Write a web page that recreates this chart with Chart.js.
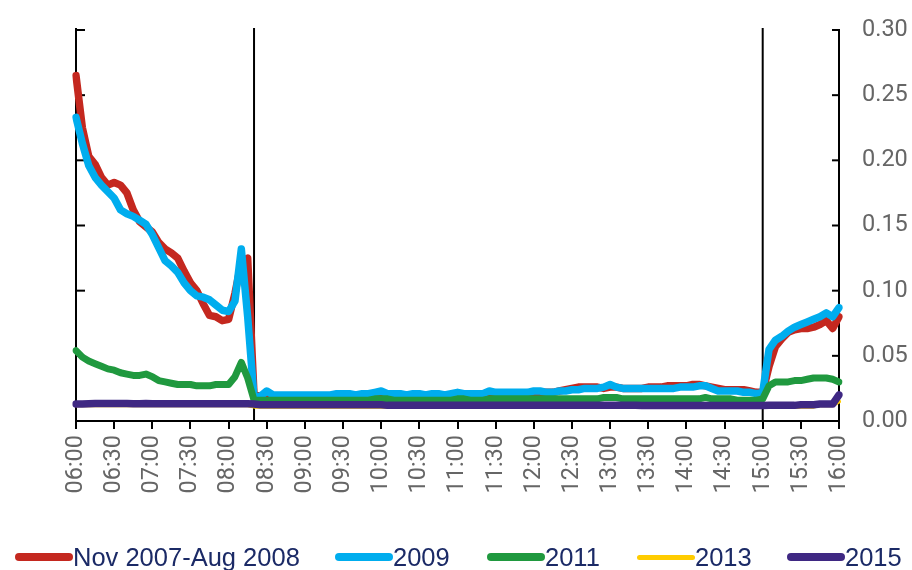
<!DOCTYPE html>
<html><head><meta charset="utf-8">
<script src="https://cdn.jsdelivr.net/npm/chart.js@4.4.0/dist/chart.umd.min.js"></script>
<style>
html,body{margin:0;padding:0;background:#fff;}
#wrap{position:relative;width:912px;height:570px;overflow:hidden;}
#legend{position:absolute;left:0;top:541px;width:912px;height:32px;font-family:"Liberation Sans",Arial,sans-serif;font-size:25.5px;line-height:32px;color:#1b2a66;white-space:nowrap;}
.item{position:absolute;top:0;display:flex;align-items:center;height:32px;}
.sw{width:58px;border-radius:4px;}
</style></head>
<body>
<div id="wrap"><canvas id="c"></canvas><div id="legend"></div></div>
<script>
// categories: 5-minute intervals 06:00 .. 16:00
const timeLabels = [];
for (let m = 360; m <= 960; m += 5) {
  timeLabels.push(String(Math.floor(m / 60)).padStart(2, '0') + ':' + String(m % 60).padStart(2, '0'));
}
const tickLabels = ['06:00','06:30','07:00','07:30','08:00','08:30','09:00','09:30','10:00','10:30','11:00','11:30','12:00','12:30','13:00','13:30','14:00','14:30','15:00','15:30','16:00'];
const markerTimes = ['08:20','15:00'];
const yTicks = [0, 0.05, 0.10, 0.15, 0.20, 0.25, 0.30];

const seriesNames = ['Nov 2007-Aug 2008','2009','2011','2013','2015'];
const seriesColors = ['#c4281f','#00adee','#20993f','#ffcc00','#3f2883'];

const s2008 = [0.265,0.225,0.203,0.197,0.187,0.181,0.183,0.181,0.175,0.162,0.153,0.149,0.145,0.137,0.132,0.129,0.125,0.115,0.106,0.100,0.090,0.081,0.080,0.077,0.078,0.098,0.122,0.125,0.020,
  0.019,0.020,0.019,0.019,0.019,0.019,0.019,0.019,0.019,0.019,0.019,0.019,0.020,0.020,0.020,0.019,0.020,0.020,0.021,0.021,
  0.020,0.020,0.020,0.019,0.020,0.020,0.019,0.020,0.020,0.019,0.020,0.021,0.020,0.020,0.020,0.020,0.021,0.021,0.021,0.021,
  0.021,0.021,0.021,0.022,0.022,0.022,0.022,0.023,0.024,0.025,0.026,0.026,0.026,0.026,0.025,0.026,0.026,0.025,0.025,0.025,
  0.025,0.026,0.026,0.026,0.027,0.027,0.027,0.027,0.028,0.028,0.027,0.026,0.025,0.024,0.024,0.024,0.024,0.023,0.022,0.022,
  0.042,0.057,0.063,0.068,0.070,0.071,0.071,0.072,0.074,0.077,0.071,0.080];
const s2009 = [0.233,0.213,0.196,0.187,0.181,0.176,0.171,0.162,0.159,0.157,0.154,0.151,0.143,0.133,0.123,0.119,0.114,0.106,0.100,0.096,0.095,0.093,0.089,0.085,0.084,0.092,0.132,0.080,0.018,
  0.019,0.023,0.020,0.020,0.020,0.020,0.020,0.020,0.020,0.020,0.020,0.020,0.021,0.021,0.021,0.020,0.021,0.021,0.022,0.023,
  0.021,0.021,0.021,0.020,0.021,0.021,0.020,0.021,0.021,0.020,0.021,0.022,0.021,0.021,0.021,0.021,0.023,0.022,0.022,0.022,
  0.022,0.022,0.022,0.023,0.023,0.022,0.022,0.023,0.023,0.024,0.024,0.025,0.025,0.025,0.026,0.028,0.026,0.025,0.025,0.025,
  0.025,0.025,0.025,0.025,0.025,0.025,0.026,0.026,0.026,0.027,0.027,0.025,0.023,0.023,0.023,0.023,0.022,0.022,0.021,0.022,
  0.055,0.062,0.065,0.069,0.072,0.074,0.076,0.078,0.080,0.083,0.080,0.087];
const s2011 = [0.054,0.049,0.046,0.044,0.042,0.040,0.039,0.037,0.036,0.035,0.035,0.036,0.034,0.031,0.030,0.029,0.028,0.028,0.028,0.027,0.027,0.027,0.028,0.028,0.028,0.034,0.045,0.033,0.016,
  0.016,0.016,0.016,0.016,0.016,0.016,0.016,0.016,0.016,0.016,0.016,0.016,0.016,0.016,0.016,0.016,0.016,0.016,0.017,0.017,
  0.017,0.016,0.016,0.016,0.016,0.016,0.016,0.016,0.016,0.016,0.016,0.017,0.017,0.016,0.016,0.016,0.017,0.017,0.017,0.017,
  0.017,0.017,0.017,0.017,0.017,0.017,0.017,0.017,0.017,0.017,0.017,0.017,0.017,0.017,0.018,0.018,0.018,0.017,0.017,0.017,
  0.017,0.017,0.017,0.017,0.017,0.017,0.017,0.017,0.017,0.017,0.018,0.017,0.017,0.017,0.017,0.016,0.016,0.016,0.016,0.017,
  0.027,0.030,0.030,0.030,0.031,0.031,0.032,0.033,0.033,0.033,0.032,0.030];
const s2013 = [0.012,0.012,0.012,0.012,0.012,0.012,0.012,0.012,0.012,0.012,0.012,0.012,0.012,0.012,0.012,0.012,0.012,0.012,0.012,0.012,0.012,0.012,0.012,0.012,0.012,0.012,0.012,0.012,0.011,
  0.011,0.011,0.011,0.011,0.011,0.011,0.011,0.011,0.011,0.011,0.011,0.011,0.011,0.011,0.011,0.011,0.011,0.011,0.011,0.011,
  0.011,0.011,0.011,0.011,0.011,0.011,0.011,0.011,0.011,0.011,0.011,0.011,0.011,0.011,0.011,0.011,0.011,0.011,0.011,0.011,
  0.011,0.011,0.011,0.011,0.011,0.011,0.011,0.011,0.011,0.011,0.011,0.011,0.011,0.011,0.011,0.011,0.011,0.011,0.011,0.011,
  0.011,0.011,0.011,0.011,0.011,0.011,0.011,0.011,0.011,0.011,0.011,0.011,0.011,0.011,0.011,0.011,0.011,0.011,0.011,0.011,
  0.011,0.011,0.011,0.011,0.011,0.011,0.011,0.011,0.012,0.012,0.012,0.015];
const s2015 = [0.013,0.013,0.0132,0.0134,0.0135,0.0135,0.0135,0.0135,0.0135,0.0133,0.0133,0.0135,0.0133,0.0133,0.0133,0.0133,0.0133,0.0133,0.0133,0.0133,0.0133,0.0133,0.0133,0.0133,0.0133,0.0133,0.0133,0.0133,0.013,
  0.0125,0.0125,0.0125,0.0125,0.0125,0.0125,0.0125,0.0125,0.0125,0.0125,0.0125,0.0125,0.0125,0.0125,0.0125,0.0125,0.0125,0.0125,0.0125,0.0125,
  0.012,0.012,0.012,0.012,0.012,0.012,0.012,0.012,0.012,0.012,0.012,0.012,0.012,0.012,0.012,0.012,0.012,0.012,0.012,0.012,
  0.012,0.012,0.012,0.012,0.012,0.012,0.012,0.012,0.012,0.012,0.012,0.012,0.012,0.012,0.012,0.012,0.012,0.012,0.012,0.012,
  0.0118,0.0118,0.0118,0.0118,0.0118,0.0118,0.0118,0.0118,0.0118,0.0118,0.0118,0.0118,0.0118,0.0118,0.0118,0.0118,0.0118,0.0118,0.0118,0.0118,
  0.012,0.012,0.012,0.012,0.012,0.0125,0.0125,0.0125,0.013,0.013,0.013,0.020];

const seriesData = [s2008, s2009, s2011, s2013, s2015];
const lineWidths = [7.5, 7.5, 7, 4, 7.5];
const drawOrder = [5, 4, 3, 2, 1];
const legendLeft = [15, 335, 487, 637, 787];

const datasets = seriesNames.map((n, i) => ({
  label: n, data: seriesData[i], borderColor: seriesColors[i], backgroundColor: seriesColors[i],
  borderWidth: lineWidths[i], pointRadius: 0, tension: 0, fill: false,
  borderJoinStyle: 'round', borderCapStyle: 'round', order: drawOrder[i]
}));

const tickFont = { family: 'Roboto, "Liberation Sans", sans-serif', size: 23.5 };

const frame = {
  id: 'frame',
  beforeDatasetsDraw(chart) {
    const { ctx, chartArea: a, scales: { x, y } } = chart;
    ctx.save();
    ctx.strokeStyle = '#000';
    ctx.lineWidth = 2;
    const ln = (x1, y1, x2, y2) => { ctx.beginPath(); ctx.moveTo(x1, y1); ctx.lineTo(x2, y2); ctx.stroke(); };
    markerTimes.forEach(t => {
      const px = x.getPixelForValue(timeLabels.indexOf(t));
      ln(px, a.top - 2, px, a.bottom);
    });
    ln(a.left, a.top - 2, a.left, a.bottom);
    yTicks.forEach(v => {
      const py = y.getPixelForValue(v);
      ln(a.left, py, a.left + 9, py);
      ln(a.right - 7, py, a.right, py);
    });
    ctx.restore();
  }
};

new Chart(document.getElementById('c'), {
  type: 'line',
  data: { labels: timeLabels, datasets },
  options: {
    responsive: true, maintainAspectRatio: false, animation: false,
    layout: { padding: { left: 76, top: 30, right: 0, bottom: 0 } },
    plugins: { legend: { display: false }, tooltip: { enabled: false } },
    scales: {
      x: {
        type: 'category', offset: false,
        grid: { drawOnChartArea: false, drawTicks: true, tickLength: 8, color: '#000', lineWidth: 2 },
        border: { display: true, color: '#000', width: 2 },
        ticks: {
          autoSkip: false, maxRotation: 90, minRotation: 90, padding: 6,
          color: '#666', font: tickFont,
          callback: (v, i) => tickLabels.includes(timeLabels[i]) ? timeLabels[i] : null
        },
        afterFit: s => { s.height = 149; }
      },
      y: {
        position: 'right', min: 0, max: 0.3,
        grid: { drawOnChartArea: false, drawTicks: true, tickLength: 20, tickColor: 'rgba(0,0,0,0)' },
        border: { display: true, color: '#000', width: 2 },
        ticks: { stepSize: 0.05, padding: 3, color: '#666', font: tickFont, callback: v => Number(v).toFixed(2) },
        afterFit: s => { s.width = 73; }
      }
    }
  },
  plugins: [frame]
});

const lg = document.getElementById('legend');
seriesNames.forEach((n, i) => {
  const it = document.createElement('div'); it.className = 'item';
  it.style.left = legendLeft[i] + 'px';
  const sw = document.createElement('div'); sw.className = 'sw';
  sw.style.height = (i === 3 ? 5 : 8) + 'px'; sw.style.background = seriesColors[i];
  const tx = document.createElement('span'); tx.textContent = n;
  it.appendChild(sw); it.appendChild(tx); lg.appendChild(it);
});
</script>
</body></html>
